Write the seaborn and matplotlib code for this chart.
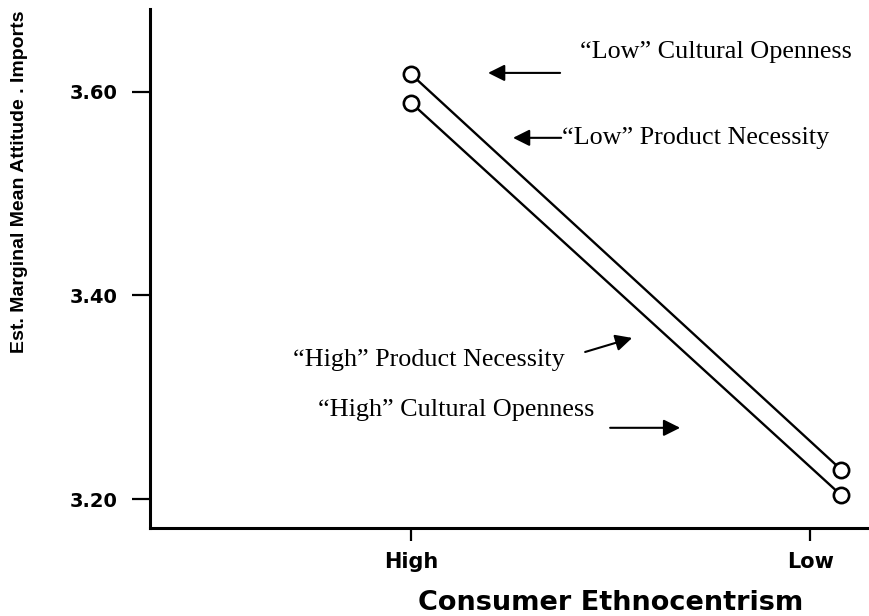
import matplotlib
matplotlib.use("Agg")
import matplotlib.pyplot as plt
import seaborn as sns
import pandas as pd

# ---- data ----
categories = ["High", "Low"]
series_names = ["Low Cultural Openness / Low Product Necessity",
                "High Product Necessity / High Cultural Openness"]
upper_values = [3.617, 3.229]
lower_values = [3.589, 3.204]
y_ticks = [3.20, 3.40, 3.60]
y_tick_labels = ["3.20", "3.40", "3.60"]
x_label = "Consumer Ethnocentrism"
y_label = "Est. Marginal Mean Attitude . Imports"

sns.set_theme(style="white")
plt.rcParams["font.family"] = ["DejaVu Sans"]

fig = plt.figure(figsize=(8.7, 6.16), dpi=100)
ax = fig.add_axes([150/870, 1-528/616, 1-150/870, (528-9)/616])

pos = list(range(len(categories)))
df = pd.DataFrame({
    "pos": pos * 2,
    "value": upper_values + lower_values,
    "series": [series_names[0]] * 2 + [series_names[1]] * 2,
})
for name in series_names:
    sub = df[df["series"] == name]
    sns.lineplot(data=sub, x="pos", y="value", ax=ax, color="black",
                 lw=1.7, marker="o", markersize=11, markerfacecolor="white",
                 markeredgecolor="black", markeredgewidth=1.9, legend=False)

ax.set_xlim(-0.607, 1.067)
ax.set_ylim(3.1718, 3.681)
ax.set_yticks(y_ticks)
ax.set_yticklabels(y_tick_labels, fontsize=14, fontweight="bold", color="black")
ax.set_xticks([0, 0.928])
ax.set_xticklabels(categories, fontsize=15, fontweight="bold", color="black")
ax.set_xlabel("")
ax.set_ylabel("")
for s in ["top", "right"]:
    ax.spines[s].set_visible(False)
for s in ["left", "bottom"]:
    ax.spines[s].set_color("black")
    ax.spines[s].set_linewidth(2.2)
ax.tick_params(axis="y", direction="out", length=13, width=1.6, pad=10, left=True,
               colors="black", labelcolor="black")
ax.tick_params(axis="x", direction="out", length=9, width=1.6, pad=8, bottom=True,
               colors="black", labelcolor="black")
ax.grid(False)

fig.text(611/870, 1-603/616, x_label, ha="center", va="center",
         fontsize=19.5, fontweight="bold", color="black")
fig.text(20/870, 1-182/616, y_label, rotation=90, ha="center", va="center",
         fontsize=14, fontweight="bold", color="black",
         family=["Liberation Sans", "DejaVu Sans"])

serif = ["Liberation Serif", "DejaVu Serif"]
tsize = 18.8
ax.text(0.393, 3.639, "\u201cLow\u201d Cultural Openness", ha="left", va="center",
        fontsize=tsize, family=serif, color="black")
ax.text(0.351, 3.5546, "\u201cLow\u201d Product Necessity", ha="left", va="center",
        fontsize=tsize, family=serif, color="black")
ax.text(-0.274, 3.3367, "\u201cHigh\u201d Product Necessity", ha="left", va="center",
        fontsize=tsize, family=serif, color="black")
ax.text(-0.216, 3.2877, "\u201cHigh\u201d Cultural Openness", ha="left", va="center",
        fontsize=tsize, family=serif, color="black")

ap = dict(arrowstyle="-|>", color="black", lw=1.5, mutation_scale=25,
          shrinkA=0, shrinkB=0)
ax.annotate("", xy=(0.179, 3.6183), xytext=(0.3465, 3.6183), arrowprops=ap)
ax.annotate("", xy=(0.237, 3.5546), xytext=(0.349, 3.5546), arrowprops=ap)
ax.annotate("", xy=(0.514, 3.3583), xytext=(0.4047, 3.3445), arrowprops=ap)
ax.annotate("", xy=(0.6256, 3.2701), xytext=(0.4628, 3.2701), arrowprops=ap)

fig.savefig("out.png", dpi=100)
